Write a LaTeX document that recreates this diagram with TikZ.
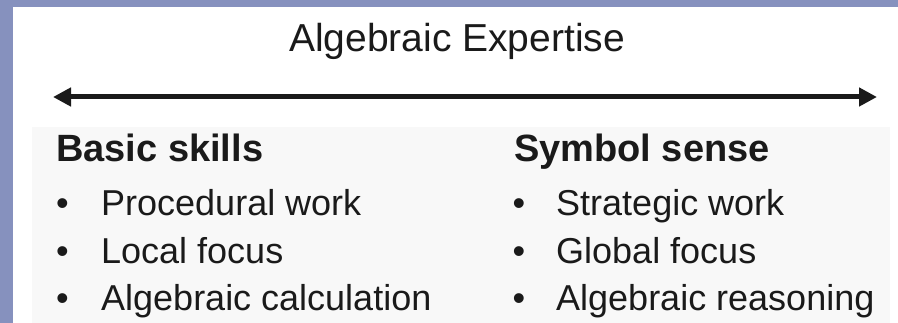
\documentclass[tikz,border=0pt]{standalone}
\usepackage{fontspec}
\setmainfont{Liberation Sans}
\usetikzlibrary{arrows.meta}

\definecolor{frameblue}{RGB}{134,145,190}
\definecolor{panelgrey}{RGB}{248,248,248}
\definecolor{ink}{RGB}{26,26,26}

\begin{document}
\begin{tikzpicture}[
  x=1pt, y=-1pt,
  title/.style={font=\fontsize{39}{44}\selectfont, text=ink, anchor=base, inner sep=0pt},
  head/.style={font=\fontsize{38}{44}\selectfont\bfseries, text=ink, anchor=base west, inner sep=0pt},
  item/.style={font=\fontsize{36}{43}\selectfont, text=ink, anchor=base west, inner sep=0pt},
  dot/.style={font=\fontsize{36}{43}\selectfont, text=ink, anchor=base, inner sep=0pt},
  scale arrow/.style={line width=5pt, ink, {Triangle[length=18pt,width=18pt]}-{Triangle[length=18pt,width=18pt]}},
  ]
\useasboundingbox (0,0) rectangle (898,323);

% ---- Slide frame -----------------------------------------------------------
\fill[white] (0,0) rectangle (898,323);
\fill[frameblue] (0,0) rectangle (898,7.5);
\fill[frameblue] (0,0) rectangle (12.7,323);
\fill[panelgrey] (32,127) rectangle (890,323);

% ---- Title and scale -------------------------------------------------------
\node[title] (title) at (457,52) {Algebraic Expertise};
\coordinate (low)  at (53,97);
\coordinate (high) at (877,97);
\draw[scale arrow] (low) -- (high);

% ---- Basic skills ----------------------------------------------------------
\node[head] (basic) at (56,162) {Basic skills};
\foreach \txt [count=\i] in {Procedural work, Local focus, Algebraic calculation} {
  \node[dot]  (bdot\i) at (62.5, 216+47.5*\i-47.5) {\char"2022};
  \node[item] (bitem\i) at (101, 216+47.5*\i-47.5) {\txt};
}

% ---- Symbol sense ----------------------------------------------------------
\node[head] (symbol) at (514,162) {Symbol sense};
\foreach \txt [count=\i] in {Strategic work, Global focus, Algebraic reasoning} {
  \node[dot]  (sdot\i) at (519, 216+47.5*\i-47.5) {\char"2022};
  \node[item] (sitem\i) at (556, 216+47.5*\i-47.5) {\txt};
}

\end{tikzpicture}
\end{document}
